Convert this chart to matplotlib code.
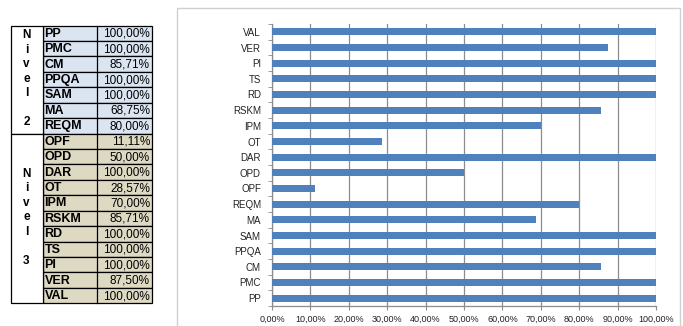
import matplotlib
matplotlib.use("Agg")
import matplotlib.pyplot as plt
from matplotlib.patches import Rectangle
from matplotlib.ticker import FuncFormatter, FixedLocator

# Process areas per maturity level, with satisfaction percentages
nivel2_areas = ["PP", "PMC", "CM", "PPQA", "SAM", "MA", "REQM"]
nivel2_vals = [100.00, 100.00, 85.71, 100.00, 100.00, 68.75, 80.00]
nivel3_areas = ["OPF", "OPD", "DAR", "OT", "IPM", "RSKM", "RD", "TS", "PI", "VER", "VAL"]
nivel3_vals = [11.11, 50.00, 100.00, 28.57, 70.00, 85.71, 100.00, 100.00, 100.00, 87.50, 100.00]
x_ticks = [0, 10, 20, 30, 40, 50, 60, 70, 80, 90, 100]

areas = nivel2_areas + nivel3_areas
vals = nivel2_vals + nivel3_vals


def pct(v):
    return ("%.2f%%" % v).replace(".", ",")


W, H = 683, 326
fig = plt.figure(figsize=(W / 100, H / 100), dpi=100)
fig.patch.set_facecolor("white")

# ---- table on the left, drawn in pixel coordinates ----
tab = fig.add_axes([0, 0, 1, 1])
tab.set_xlim(0, W)
tab.set_ylim(H, 0)
tab.axis("off")

x0, x1, x2, x3 = 10.5, 42.5, 97, 152
top = 25.5
rh = 15.43
groups = [("2", nivel2_areas, nivel2_vals, "#dbe5f1"),
          ("3", nivel3_areas, nivel3_vals, "#ddd9c3")]
fnt = "Liberation Sans"

row = 0
for lvl, names, values, bg in groups:
    g_top = top + row * rh
    for name, v in zip(names, values):
        y = top + row * rh
        tab.add_patch(Rectangle((x1, y), x3 - x1, rh, facecolor=bg,
                                edgecolor="black", lw=0.9))
        tab.plot([x2, x2], [y, y + rh], color="black", lw=0.9)
        tab.text(x1 + 2, y + rh / 2 + 0.5, name, fontsize=9, fontweight="bold",
                 family=fnt, ha="left", va="center")
        tab.text(x3 - 2, y + rh / 2 + 0.5, pct(v), fontsize=8.5,
                 family=fnt, ha="right", va="center")
        row += 1
    g_bot = top + row * rh
    tab.add_patch(Rectangle((x0, g_top), x1 - x0, g_bot - g_top,
                            facecolor="white", edgecolor="black", lw=0.9))
    letters = ["N", "i", "v", "e", "l", "", lvl]
    mid = (g_top + g_bot) / 2 - 1
    for k, ch in enumerate(letters):
        tab.text((x0 + x1) / 2, mid + (k - 3) * 14.5, ch, fontsize=8.5,
                 fontweight="bold", family=fnt, ha="center", va="center")

# chart frame
tab.add_patch(Rectangle((176.5, 7.5), 503, 340, facecolor="none",
                        edgecolor="#d0d0d0", lw=1))

# ---- horizontal bar chart ----
ax = fig.add_axes([272 / W, (H - 306) / H, (656 - 272) / W, (306 - 24) / H])
pos = list(range(len(areas)))
ax.barh(pos, vals, height=0.45, color="#4f81bd", zorder=3)
ax.set_xlim(0, 100)
ax.set_ylim(-0.5, len(areas) - 0.5)
ax.set_yticks(pos)
ax.set_yticklabels(areas)
ax.yaxis.set_minor_locator(FixedLocator([p - 0.5 for p in pos] + [len(areas) - 0.5]))
ax.set_xticks(x_ticks)
ax.xaxis.set_major_formatter(FuncFormatter(lambda v, p: pct(v)))
ax.grid(axis="x", color="#8c8c8c", lw=0.9, zorder=0)
for s in ["top", "right"]:
    ax.spines[s].set_visible(False)
for s in ["left", "bottom"]:
    ax.spines[s].set_color("#8c8c8c")
    ax.spines[s].set_linewidth(0.9)
ax.tick_params(axis="y", which="major", length=0, pad=8, labelsize=7)
ax.tick_params(axis="y", which="minor", length=3, color="#8c8c8c", direction="out")
ax.tick_params(axis="x", length=3, color="#8c8c8c", pad=3, labelsize=6.5)
for lab in ax.get_xticklabels() + ax.get_yticklabels():
    lab.set_family(fnt)
    lab.set_color("#222222")

fig.savefig("out.png", dpi=100)
